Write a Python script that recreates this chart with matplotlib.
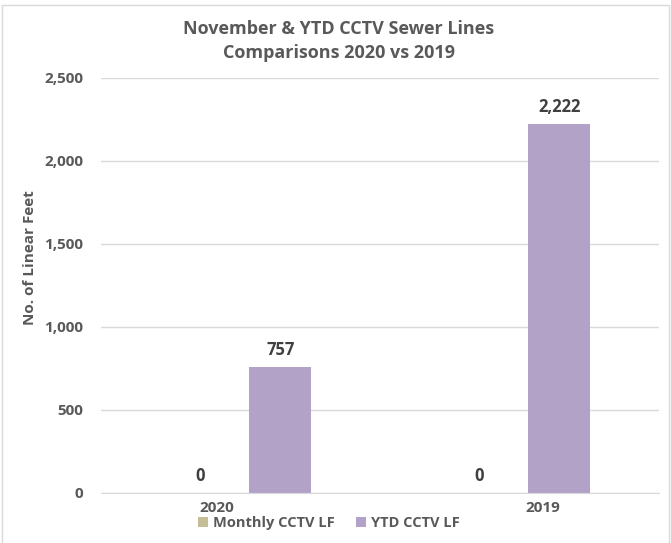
import numpy as np
import matplotlib.pyplot as plt
from matplotlib.patches import Rectangle

years = ['2020', '2019']
monthly = [0, 0]
ytd = [757, 2222]

txt = '#595959'
plt.rcParams['font.family'] = ['Open Sans', 'DejaVu Sans']

fig = plt.figure(figsize=(6.71, 5.43), dpi=100)
ax = fig.add_axes([0.1505, 0.0921, 0.8316, 0.7643])

x = np.arange(len(years))
w = 0.222
b1 = ax.bar(x - 0.143, monthly, w, color='#C4BD97', label='Monthly CCTV LF')
b2 = ax.bar(x + 0.143, ytd, w, color='#B3A2C7', label='YTD CCTV LF')

for bars, vals in [(b1, monthly), (b2, ytd)]:
    for r, v in zip(bars, vals):
        ax.annotate(f'{v:,}', (r.get_x() + r.get_width() / 2, v), xytext=(0, 6),
                    textcoords='offset points', ha='center', va='bottom',
                    fontsize=12, fontweight='bold', color='#404040')

ax.set_xlim(-0.5, 1.5)
ax.set_ylim(0, 2500)
ax.set_yticks(np.arange(0, 2501, 500))
ax.set_yticklabels([f'{v:,}' for v in range(0, 2501, 500)])
ax.set_xticks(x + np.array([-0.084, 0.084]))
ax.set_xticklabels(years)
ax.tick_params(length=0, labelsize=11, labelcolor=txt)
ax.tick_params(axis='y', pad=13)
ax.tick_params(axis='x', pad=6)
for lab in ax.get_xticklabels() + ax.get_yticklabels():
    lab.set_fontweight('bold')
ax.grid(axis='y', color='#D9D9D9', lw=1)
ax.set_axisbelow(True)
for s in ['top', 'right', 'left']:
    ax.spines[s].set_visible(False)
ax.spines['bottom'].set_color('#D9D9D9')

fig.text(0.0447, 0.525, 'No. of Linear Feet', rotation=90, ha='center', va='center',
         fontsize=11, fontweight='bold', color=txt)
fig.text(0.505, 0.925, 'November & YTD CCTV Sewer Lines\nComparisons 2020 vs 2019',
         ha='center', va='center', fontsize=13, fontweight='bold', color=txt,
         linespacing=1.4)

fig.legend(handles=[b1, b2], loc='center', bbox_to_anchor=(0.49, 0.037), ncol=2,
           frameon=False, handlelength=0.7, handleheight=0.7,
           columnspacing=1.5, handletextpad=0.3, prop={'weight': 'bold', 'size': 10.5})
for t in fig.legends[0].get_texts():
    t.set_color(txt)

fig.patches.append(Rectangle((0.003, -0.01), 0.994, 1.0, transform=fig.transFigure,
                             fill=False, edgecolor='#D9D9D9', lw=1))

fig.savefig('out.png', dpi=100)
